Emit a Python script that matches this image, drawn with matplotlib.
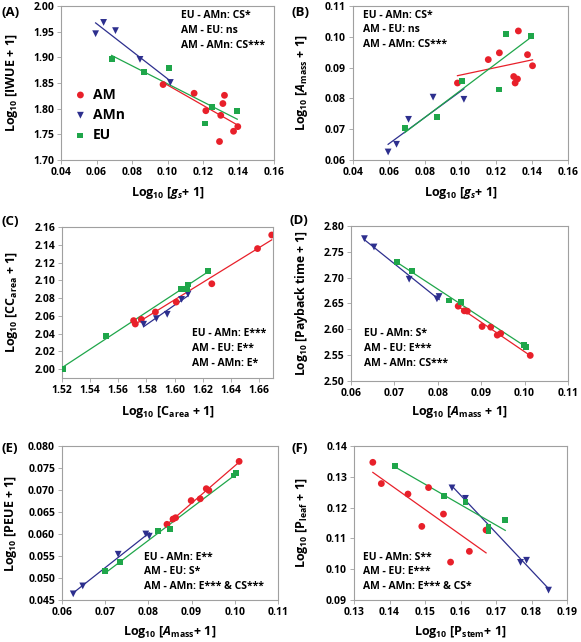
import numpy as np
import matplotlib.pyplot as plt
from matplotlib.ticker import FormatStrFormatter, MultipleLocator

RED = "#e8202a"
BLUE = "#2d2f8e"
GREEN = "#1fa64a"
GRAY = "#a0a0a0"

# (A) gs vs IWUE
A_AM_X = [0.0975, 0.1150, 0.1216, 0.1321, 0.1312, 0.1300, 0.1293, 0.1372, 0.1396]
A_AM_Y = [1.847, 1.830, 1.796, 1.826, 1.810, 1.787, 1.736, 1.756, 1.765]
A_AMN_X = [0.0595, 0.0640, 0.0707, 0.0845, 0.1016]
A_AMN_Y = [1.946, 1.968, 1.952, 1.896, 1.851]
A_EU_X = [0.0685, 0.0867, 0.1007, 0.1210, 0.1252, 0.1393]
A_EU_Y = [1.897, 1.872, 1.879, 1.771, 1.803, 1.796]

# (B) gs vs Amass
B_AM_X = [0.0983, 0.1155, 0.1217, 0.1323, 0.1297, 0.1318, 0.1305, 0.1374, 0.1402]
B_AM_Y = [0.0850, 0.0926, 0.0948, 0.1019, 0.0871, 0.0863, 0.0850, 0.0942, 0.0906]
B_AMN_X = [0.0596, 0.0643, 0.0710, 0.0847, 0.1019]
B_AMN_Y = [0.0626, 0.0651, 0.0732, 0.0804, 0.0797]
B_EU_X = [0.0688, 0.0871, 0.1009, 0.1213, 0.1254, 0.1394]
B_EU_Y = [0.0704, 0.0740, 0.0857, 0.0829, 0.1009, 0.1003]

# (C) Carea vs CCarea
C_AM_X = [1.5709, 1.5721, 1.5764, 1.5864, 1.6012, 1.6265, 1.6590, 1.6691]
C_AM_Y = [2.0546, 2.0508, 2.0560, 2.0643, 2.0755, 2.0961, 2.1357, 2.1510]
C_AMN_X = [1.5780, 1.5871, 1.5948, 1.6050, 1.6096]
C_AMN_Y = [2.0505, 2.0568, 2.0617, 2.0785, 2.0845]
C_EU_X = [1.5207, 1.5513, 1.6043, 1.6086, 1.6098, 1.6237]
C_EU_Y = [2.0004, 2.0374, 2.0905, 2.0901, 2.0953, 2.1103]

# (D) Amass vs payback time
D_AM_X = [0.0847, 0.0861, 0.0868, 0.0902, 0.0922, 0.0937, 0.0945, 0.1013]
D_AM_Y = [2.6448, 2.6358, 2.6352, 2.6055, 2.6042, 2.5888, 2.5920, 2.5495]
D_AMN_X = [0.0631, 0.0653, 0.0734, 0.0798, 0.0803]
D_AMN_Y = [2.7755, 2.7594, 2.6970, 2.6590, 2.6635]
D_EU_X = [0.0705, 0.0740, 0.0826, 0.0853, 0.0998, 0.1004]
D_EU_Y = [2.7311, 2.7124, 2.6558, 2.6532, 2.5695, 2.5656]

# (E) Amass vs PEUE
E_AM_X = [0.0843, 0.0857, 0.0863, 0.0899, 0.0920, 0.0934, 0.0940, 0.1010]
E_AM_Y = [0.0622, 0.0634, 0.0637, 0.0676, 0.0680, 0.0703, 0.0699, 0.0765]
E_AMN_X = [0.0626, 0.0648, 0.0730, 0.0794, 0.0802]
E_AMN_Y = [0.0464, 0.0482, 0.0554, 0.0600, 0.0595]
E_EU_X = [0.0700, 0.0735, 0.0822, 0.0851, 0.0997, 0.1003]
E_EU_Y = [0.0515, 0.0537, 0.0606, 0.0611, 0.0733, 0.0739]

# (F) Pstem vs Pleaf
F_AM_X = [0.1353, 0.1377, 0.1452, 0.1510, 0.1491, 0.1552, 0.1572, 0.1625, 0.1672]
F_AM_Y = [0.1347, 0.1278, 0.1244, 0.1265, 0.1139, 0.1179, 0.1023, 0.1058, 0.1127]
F_AMN_X = [0.1576, 0.1614, 0.1769, 0.1786, 0.1848]
F_AMN_Y = [0.1264, 0.1230, 0.1022, 0.1029, 0.0932]
F_EU_X = [0.1415, 0.1553, 0.1614, 0.1679, 0.1679, 0.1726]
F_EU_Y = [0.1335, 0.1238, 0.1219, 0.1138, 0.1125, 0.1159]

NOTES = {
    "A": ["EU - AMn: CS*", "AM - EU: ns", "AM - AMn: CS***"],
    "B": ["EU - AMn: CS*", "AM - EU: ns", "AM - AMn: CS***"],
    "C": ["EU - AMn: E***", "AM - EU: E**", "AM - AMn: E*"],
    "D": ["EU - AMn: S*", "AM - EU: E***", "AM - AMn: CS***"],
    "E": ["EU - AMn: E**", "AM - EU: S*", "AM - AMn: E*** & CS***"],
    "F": ["EU - AMn: S**", "AM - EU: E***", "AM - AMn: E*** & CS*"],
}

plt.rcParams["font.family"] = ["Open Sans", "DejaVu Sans"]
plt.rcParams["font.weight"] = "bold"
plt.rcParams["axes.labelweight"] = "bold"
plt.rcParams["mathtext.fontset"] = "custom"
plt.rcParams["mathtext.rm"] = "Open Sans:bold"
plt.rcParams["mathtext.it"] = "Open Sans:italic:bold"
plt.rcParams["mathtext.bf"] = "Open Sans:bold"
plt.rcParams["mathtext.default"] = "rm"

W, H = 581, 642
fig = plt.figure(figsize=(W / 100, H / 100), dpi=100)


def add_panel(l, t, r, b):
    ax = fig.add_axes([l / W, 1 - b / H, (r - l) / W, (b - t) / H])
    for s in ax.spines.values():
        s.set_color(GRAY)
        s.set_linewidth(0.8)
    ax.tick_params(direction="out", length=3, width=0.6, color=GRAY,
                   labelsize=7.5, pad=2)
    return ax


def draw_group(ax, x, y, color, marker, size, label=None):
    x = np.asarray(x)
    y = np.asarray(y)
    k, c = np.polyfit(x, y, 1)
    xs = np.array([x.min(), x.max()])
    ax.plot(xs, k * xs + c, color=color, lw=0.9, zorder=2)
    ax.scatter(x, y, s=size, marker=marker, color=color, edgecolors="none",
               zorder=3, label=label)


def draw_all(ax, am, amn, eu, labels=False):
    draw_group(ax, am[0], am[1], RED, "o", 24, "AM" if labels else None)
    draw_group(ax, amn[0], amn[1], BLUE, "v", 24, "AMn" if labels else None)
    draw_group(ax, eu[0], eu[1], GREEN, "s", 18, "EU" if labels else None)


def notes(key, x, y0, dy=14.7):
    for i, s in enumerate(NOTES[key]):
        fig.text(x / W, 1 - (y0 + i * dy) / H, s, fontsize=7.5, va="center", ha="left")


def setup(ax, xlim, xstep, ylim, ystep, yfmt, xlabel, ylabel, ylab_x, xlab_y, box):
    l, t, r, b = box
    ax.set_xlim(*xlim)
    ax.set_ylim(*ylim)
    ax.xaxis.set_major_locator(MultipleLocator(xstep))
    ax.yaxis.set_major_locator(MultipleLocator(ystep))
    ax.xaxis.set_major_formatter(FormatStrFormatter("%.2f"))
    ax.yaxis.set_major_formatter(FormatStrFormatter(yfmt))
    ax.set_xlabel(xlabel, fontsize=9)
    ax.set_ylabel(ylabel, fontsize=9)
    ax.xaxis.label.set_va("center")
    ax.yaxis.label.set_va("center")
    ax.xaxis.set_label_coords(0.5, -(xlab_y - b) / (b - t))
    ax.yaxis.set_label_coords(-(l - ylab_x) / (r - l), 0.5)


# (A)
box = (61, 6, 274, 160)
ax = add_panel(*box)
draw_all(ax, (A_AM_X, A_AM_Y), (A_AMN_X, A_AMN_Y), (A_EU_X, A_EU_Y), labels=True)
setup(ax, (0.04, 0.16), 0.02, (1.70, 2.00), 0.05, "%.2f",
      r"Log$_{10}$ [$\mathit{g}_{\mathit{s}}$+ 1]", r"Log$_{10}$ [IWUE + 1]", 12, 193, box)
ax.yaxis.set_major_locator(plt.FixedLocator([1.70, 1.75, 1.80, 1.85, 1.90, 1.95, 2.00]))
leg = ax.legend(loc="upper left", bbox_to_anchor=(0.065, 0.47), frameon=False,
                fontsize=10, handlelength=0.8, handletextpad=0.5, labelspacing=0.45,
                borderpad=0, borderaxespad=0, markerscale=1.0)
notes("A", 181, 16)

# (B)
box = (353, 6, 568, 160)
ax = add_panel(*box)
draw_all(ax, (B_AM_X, B_AM_Y), (B_AMN_X, B_AMN_Y), (B_EU_X, B_EU_Y))
setup(ax, (0.04, 0.16), 0.02, (0.06, 0.11), 0.01, "%.2f",
      r"Log$_{10}$ [$\mathit{g}_{\mathit{s}}$+ 1]",
      r"Log$_{10}$ [$\mathit{A}_{\mathrm{mass}}$ + 1]", 302, 193, box)
notes("B", 363, 15)

# (C)
box = (62, 227, 273, 378)
ax = add_panel(*box)
draw_all(ax, (C_AM_X, C_AM_Y), (C_AMN_X, C_AMN_Y), (C_EU_X, C_EU_Y))
setup(ax, (1.52, 1.67), 0.02, (1.99, 2.16), 0.02, "%.2f",
      r"Log$_{10}$ [C$_{\mathrm{area}}$ + 1]",
      r"Log$_{10}$ [CC$_{\mathrm{area}}$ + 1]", 12, 412, box)
ax.xaxis.set_major_locator(plt.FixedLocator(np.arange(1.52, 1.665, 0.02)))
ax.yaxis.set_major_locator(plt.FixedLocator(np.arange(2.00, 2.165, 0.02)))
notes("C", 192, 334)

# (D)
box = (351, 226, 568, 381)
ax = add_panel(*box)
draw_all(ax, (D_AM_X, D_AM_Y), (D_AMN_X, D_AMN_Y), (D_EU_X, D_EU_Y))
setup(ax, (0.06, 0.11), 0.01, (2.50, 2.80), 0.05, "%.2f",
      r"Log$_{10}$ [$\mathit{A}_{\mathrm{mass}}$ + 1]",
      r"Log$_{10}$ [Payback time + 1]", 302, 412, box)
ax.yaxis.label.set_fontsize(8.7)
notes("D", 364, 334)

# (E)
box = (62, 446, 278, 600)
ax = add_panel(*box)
draw_all(ax, (E_AM_X, E_AM_Y), (E_AMN_X, E_AMN_Y), (E_EU_X, E_EU_Y))
setup(ax, (0.06, 0.11), 0.01, (0.045, 0.080), 0.005, "%.3f",
      r"Log$_{10}$ [$\mathit{A}_{\mathrm{mass}}$+ 1]",
      r"Log$_{10}$ [PEUE + 1]", 11, 632, box)
notes("E", 144, 557)

# (F)
box = (354, 446, 567, 600)
ax = add_panel(*box)
draw_all(ax, (F_AM_X, F_AM_Y), (F_AMN_X, F_AMN_Y), (F_EU_X, F_EU_Y))
setup(ax, (0.13, 0.19), 0.01, (0.09, 0.14), 0.01, "%.2f",
      r"Log$_{10}$ [P$_{\mathrm{stem}}$+ 1]",
      r"Log$_{10}$ [P$_{\mathrm{leaf}}$ + 1]", 302, 632, box)
notes("F", 363, 557)

# panel letters
for lab, x, y in [("(A)", 1, 13), ("(B)", 291, 13), ("(C)", 1, 222),
                  ("(D)", 289, 220), ("(E)", 1, 448), ("(F)", 292, 448)]:
    fig.text(x / W, 1 - y / H, lab, fontsize=9.5, va="center", ha="left")

fig.savefig("out.png", dpi=100)
